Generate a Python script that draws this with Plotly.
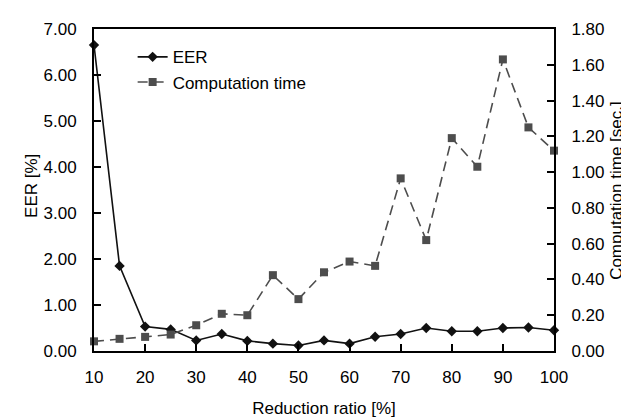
import plotly.graph_objects as go

reduction_ratio = [10, 15, 20, 25, 30, 35, 40, 45, 50, 55, 60, 65, 70, 75, 80, 85, 90, 95, 100]
eer = [6.65, 1.85, 0.53, 0.47, 0.23, 0.37, 0.22, 0.16, 0.12, 0.23, 0.16, 0.31, 0.37, 0.50, 0.43, 0.43, 0.50, 0.51, 0.45]
comp_time = [0.054, 0.068, 0.079, 0.092, 0.144, 0.208, 0.200, 0.424, 0.290, 0.440, 0.500, 0.476, 0.965, 0.620, 1.190, 1.030, 1.630, 1.250, 1.120]

left_ticks = [0, 1, 2, 3, 4, 5, 6, 7]
right_ticks = [0, 0.2, 0.4, 0.6, 0.8, 1.0, 1.2, 1.4, 1.6, 1.8]
x_ticks = [10, 20, 30, 40, 50, 60, 70, 80, 90, 100]

FONT = "Liberation Sans, Arial, sans-serif"
FS = 17

fig = go.Figure()
fig.add_trace(go.Scatter(
    x=reduction_ratio, y=eer, name="EER", mode="lines+markers",
    line=dict(color="#111111", width=1.6),
    marker=dict(symbol="diamond", size=8, color="#111111"),
    cliponaxis=False, yaxis="y"))
fig.add_trace(go.Scatter(
    x=reduction_ratio, y=comp_time, name="Computation time", mode="lines+markers",
    line=dict(color="#4d4d4d", width=1.6, dash="10px,6px"),
    marker=dict(symbol="square", size=8, color="#4d4d4d"),
    cliponaxis=False, yaxis="y2"))

axis_common = dict(showline=True, linecolor="black", linewidth=2, ticks="inside",
                   ticklen=7, tickwidth=1.5, tickcolor="black", showgrid=False,
                   zeroline=False, tickfont=dict(family=FONT, size=FS, color="black"))

fig.update_layout(
    width=629, height=419,
    margin=dict(l=86, r=83, t=15, b=68),
    paper_bgcolor="white", plot_bgcolor="white",
    font=dict(family=FONT, size=FS, color="black"),
    showlegend=True,
    legend=dict(x=0.084, y=0.968, xanchor="left", yanchor="top",
                bgcolor="rgba(0,0,0,0)", font=dict(family=FONT, size=FS),
                itemwidth=30, tracegroupgap=0),
    xaxis=dict(range=[10, 100], tickvals=x_ticks, mirror=True,
               title=dict(text="Reduction ratio [%]", standoff=16,
                          font=dict(family=FONT, size=FS)),
               ticklabelstandoff=10, **axis_common),
    yaxis=dict(range=[0, 7], tickvals=left_ticks, tickformat=".2f",
               ticklabelstandoff=12, **axis_common),
    yaxis2=dict(range=[0, 1.8], tickvals=right_ticks, tickformat=".2f",
                overlaying="y", side="right",
                ticklabelstandoff=12, **axis_common),
    annotations=[
        dict(text="EER [%]", xref="paper", yref="paper", x=(24 - 86) / 461, y=0.513,
             xanchor="center", yanchor="middle", textangle=-90, showarrow=False,
             font=dict(family=FONT, size=FS, color="black")),
        dict(text="Computation time [sec.]", xref="paper", yref="paper",
             x=(609 - 86) / 461, y=0.5, xanchor="center", yanchor="middle",
             textangle=-90, showarrow=False,
             font=dict(family=FONT, size=FS, color="black")),
    ],
)

fig.write_html("out.html")
